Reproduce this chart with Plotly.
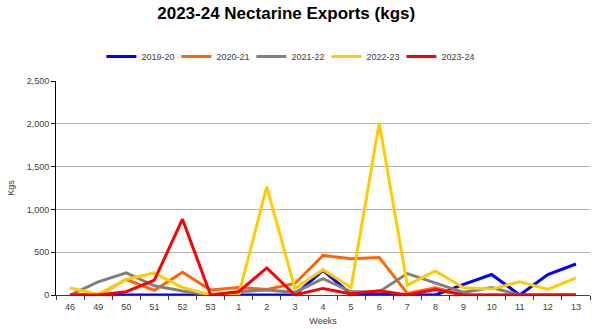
import plotly.graph_objects as go

weeks = ["46", "49", "50", "51", "52", "53", "1", "2", "3", "4", "5", "6", "7", "8", "9", "10", "11", "12", "13"]

s2019_20 = [0, 0, 0, 0, 0, 0, 0, 0, 0, 288, 10, 8, 0, 0, 123, 239, 0, 239, 362]
s2020_21 = [0, 0, 181, 54, 266, 58, 88, 65, 135, 462, 423, 439, 19, 85, 0, 0, 0, 0, 0]
s2021_22 = [0, 154, 258, 108, 46, 0, 38, 58, 31, 192, 38, 38, 250, 142, 31, 88, 0, 0, 0]
s2022_23 = [81, 8, 181, 258, 88, 0, 0, 1265, 77, 296, 88, 2010, 115, 281, 85, 69, 154, 65, 200]
s2023_24 = [0, 0, 38, 173, 885, 0, 38, 316, 0, 77, 12, 50, 0, 65, 0, 0, 0, 0, 0]

series_names = ["2019-20", "2020-21", "2021-22", "2022-23", "2023-24"]
series_values = [s2019_20, s2020_21, s2021_22, s2022_23, s2023_24]
series_colors = ["#0000FF", "#FF6600", "#808080", "#FFCC00", "#FF0000"]

y_ticks = [0, 500, 1000, 1500, 2000, 2500]

FONT = "Liberation Sans"

fig = go.Figure()
for name, vals, col in zip(series_names, series_values, series_colors):
    fig.add_trace(go.Scatter(
        x=weeks, y=vals, name=name, mode="lines",
        line=dict(color=col, width=3),
    ))

fig.update_layout(
    width=600, height=329,
    margin=dict(l=43, r=10, t=81, b=34),
    paper_bgcolor="white", plot_bgcolor="white",
    title=dict(text="<b>2023-24 Nectarine Exports (kgs)</b>", x=0.477, xanchor="center",
               y=0.96, yanchor="middle",
               font=dict(family=FONT, size=17, color="black")),
    legend=dict(orientation="h", x=0.085, xanchor="left", y=1.115, yanchor="middle",
                font=dict(family=FONT, size=9, color="#404040"),
                entrywidth=30, entrywidthmode="pixels", itemwidth=30,
                bgcolor="rgba(0,0,0,0)"),
    showlegend=True,
)
fig.update_xaxes(
    type="category", range=[-0.5, len(weeks) - 0.5], automargin=False,
    tickson="boundaries", ticks="outside", ticklen=4,
    tickcolor="#404040", showline=True, linecolor="#404040", linewidth=1,
    showgrid=False, tickfont=dict(family=FONT, size=9, color="#404040"),
    ticklabelstandoff=3,
    title=dict(text="Weeks", font=dict(family=FONT, size=9, color="#404040"), standoff=6),
)
fig.update_yaxes(
    range=[0, 2500], tickvals=y_ticks, tickformat=",d", ticks="outside", ticklen=4,
    tickcolor="black", showline=True, linecolor="black", linewidth=1,
    showgrid=True, gridcolor="#B0B0B0", gridwidth=1, zeroline=False,
    tickfont=dict(family=FONT, size=9, color="#404040"),
    title=dict(text="Kgs", font=dict(family=FONT, size=9, color="#404040"), standoff=10),
)

fig.write_html("out.html")
